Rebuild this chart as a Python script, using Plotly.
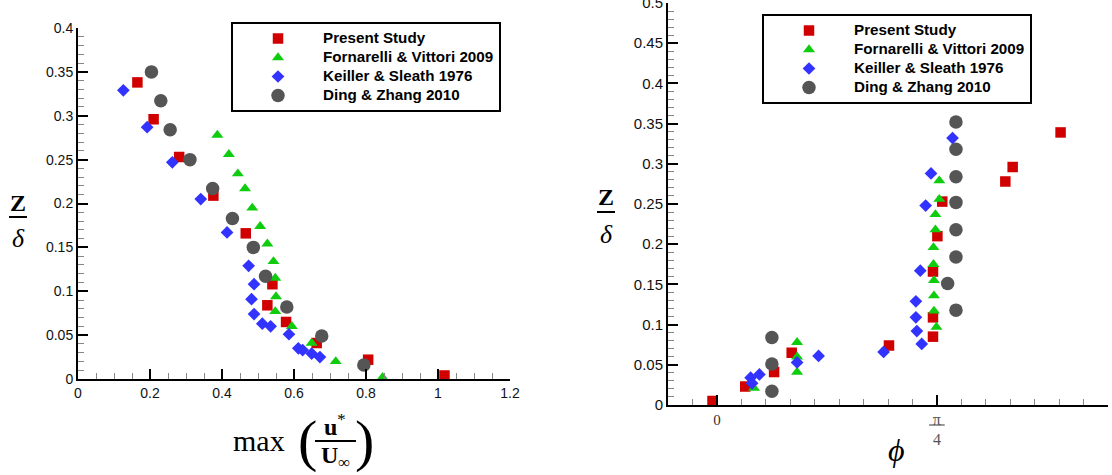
import plotly.graph_objects as go

# ---------------- data ----------------
series_names = ["Present Study", "Fornarelli & Vittori 2009", "Keiller & Sleath 1976", "Ding & Zhang 2010"]

# left panel: z/delta against max(u*/U_inf)
present_u = [0.165, 0.210, 0.281, 0.376, 0.466, 0.540, 0.526, 0.578, 0.663, 0.806, 1.018]
present_z = [0.338, 0.296, 0.253, 0.209, 0.166, 0.108, 0.084, 0.065, 0.041, 0.022, 0.004]

fornarelli_u = [0.387, 0.419, 0.444, 0.464, 0.484, 0.506, 0.526, 0.543, 0.548, 0.550, 0.548, 0.594, 0.649, 0.716, 0.846]
fornarelli_z = [0.278, 0.256, 0.234, 0.217, 0.195, 0.174, 0.154, 0.134, 0.115, 0.094, 0.077, 0.060, 0.041, 0.020, 0.002]

keiller_u = [0.126, 0.192, 0.262, 0.341, 0.414, 0.474, 0.489, 0.482, 0.489, 0.512, 0.535, 0.586, 0.612, 0.624, 0.649, 0.672]
keiller_z = [0.329, 0.287, 0.247, 0.205, 0.167, 0.129, 0.108, 0.091, 0.074, 0.063, 0.060, 0.051, 0.035, 0.033, 0.029, 0.025]

ding_u = [0.204, 0.230, 0.256, 0.311, 0.374, 0.429, 0.487, 0.521, 0.580, 0.677, 0.794]
ding_z = [0.350, 0.317, 0.284, 0.250, 0.217, 0.183, 0.150, 0.117, 0.082, 0.049, 0.016]

# right panel: z/delta against phase phi (degrees)
present_phi = [70.3, 60.5, 59.0, 46.1, 45.1, 44.2, 44.2, 44.2, 35.2, 15.3, 11.7, 5.8, -0.9]
present_zp = [0.339, 0.296, 0.278, 0.253, 0.210, 0.166, 0.109, 0.085, 0.074, 0.065, 0.041, 0.023, 0.005]

fornarelli_phi = [45.5, 45.5, 44.7, 44.7, 44.3, 44.3, 44.4, 44.4, 44.4, 44.9, 16.4, 16.4, 16.4, 7.6]
fornarelli_zp = [0.279, 0.256, 0.237, 0.218, 0.196, 0.175, 0.155, 0.136, 0.117, 0.097, 0.078, 0.060, 0.041, 0.021]

keiller_phi = [48.2, 43.8, 42.7, 41.6, 40.7, 40.7, 40.9, 41.9, 34.1, 20.8, 16.4, 8.7, 6.9, 7.2]
keiller_zp = [0.332, 0.288, 0.248, 0.167, 0.129, 0.109, 0.092, 0.076, 0.066, 0.061, 0.053, 0.038, 0.034, 0.027]

ding_phi = [48.9, 48.9, 48.9, 48.9, 48.9, 48.9, 47.2, 48.9, 11.25, 11.25, 11.25]
ding_zp = [0.352, 0.318, 0.284, 0.252, 0.218, 0.184, 0.151, 0.118, 0.084, 0.051, 0.017]

# tick labels
left_x_ticks = [0, 0.2, 0.4, 0.6, 0.8, 1.0, 1.2]
left_x_labels = ["0", "0.2", "0.4", "0.6", "0.8", "1", "1.2"]
left_y_ticks = [0, 0.05, 0.1, 0.15, 0.2, 0.25, 0.3, 0.35, 0.4]
left_y_labels = ["0", "0.05", "0.1", "0.15", "0.2", "0.25", "0.3", "0.35", "0.4"]
right_x_ticks = [0, 45]
right_x_labels = ["0", "<span style='color:#555555;font-size:16px'>π</span><br><span style='color:#555555;font-size:16px'>4</span>"]
right_y_ticks = [0, 0.05, 0.1, 0.15, 0.2, 0.25, 0.3, 0.35, 0.4, 0.45, 0.5]
right_y_labels = ["0", "0.05", "0.1", "0.15", "0.2", "0.25", "0.3", "0.35", "0.4", "0.45", "0.5"]

# ---------------- styling ----------------
W, H = 1112, 475
styles = [
    dict(symbol="square", size=10.5, color="#d10000"),
    dict(symbol="triangle-up", size=10.5, color="#0fcc0f"),
    dict(symbol="diamond", size=9.8, color="#3333ff"),
    dict(symbol="circle", size=13.5, color="#555555"),
]

fig = go.Figure()

left_sets = [(present_u, present_z), (fornarelli_u, fornarelli_z), (keiller_u, keiller_z), (ding_u, ding_z)]
right_sets = [(present_phi, present_zp), (fornarelli_phi, fornarelli_zp), (keiller_phi, keiller_zp), (ding_phi, ding_zp)]


def legend_label(name):
    # larger glyphs than the legend's base size keep the rows compact
    return f"<span style='font-size:15.2px'>{name}</span>"


for name, st, (xs, ys) in zip(series_names, styles, left_sets):
    fig.add_trace(go.Scatter(
        x=xs, y=ys, mode="markers", name=legend_label(name), xaxis="x", yaxis="y",
        legend="legend", cliponaxis=False,
        marker=dict(symbol=st["symbol"], size=st["size"], color=st["color"], line=dict(width=0)),
    ))

for name, st, (xs, ys) in zip(series_names, styles, right_sets):
    fig.add_trace(go.Scatter(
        x=xs, y=ys, mode="markers", name=legend_label(name), xaxis="x2", yaxis="y2",
        legend="legend2", cliponaxis=False,
        marker=dict(symbol=st["symbol"], size=st["size"], color=st["color"], line=dict(width=0)),
    ))

tick_font = dict(family="Liberation Sans, Arial, sans-serif", size=14, color="#111111")


def axis_common(**kw):
    base = dict(
        showline=True, linecolor="black", linewidth=2,
        showgrid=False, zeroline=False,
        ticks="inside", ticklen=10, tickwidth=2, tickcolor="black",
        tickmode="array", automargin=False, mirror=False,
        ticklabeloverflow="allow",
    )
    base.update(kw)
    return base


# panel positions in pixels (left, right, top, bottom)
L1 = (78, 510, 28, 379)
L2 = (668, 1108, 3, 405)

legend_font = dict(family="Liberation Sans, Arial, sans-serif", size=12, color="black", weight="bold")

fig.update_layout(
    width=W, height=H,
    margin=dict(l=0, r=0, t=0, b=0),
    paper_bgcolor="white", plot_bgcolor="white",
    xaxis=axis_common(
        domain=[L1[0] / W, L1[1] / W], anchor="y", range=[0, 1.2],
        tickvals=left_x_ticks, ticktext=left_x_labels, tickfont=tick_font,
        minor=dict(tickmode="linear", tick0=0, dtick=0.05, ticks="inside",
                   ticklen=6, tickwidth=1, tickcolor="#888888", showgrid=False),
    ),
    yaxis=axis_common(
        domain=[1 - L1[3] / H, 1 - L1[2] / H], anchor="x", range=[0, 0.4],
        tickvals=left_y_ticks, ticktext=left_y_labels, tickfont=tick_font,
        minor=dict(tickmode="linear", tick0=0, dtick=0.01, ticks="inside",
                   ticklen=6, tickwidth=1, tickcolor="#888888", showgrid=False),
    ),
    xaxis2=axis_common(
        domain=[L2[0] / W, L2[1] / W], anchor="y2", range=[-10, 80],
        tickvals=right_x_ticks, ticktext=right_x_labels,
        tickfont=dict(family="Liberation Serif, serif", size=15, color="#333333"),
        minor=dict(tickmode="linear", tick0=0, dtick=5, ticks="inside",
                   ticklen=6, tickwidth=1, tickcolor="#888888", showgrid=False),
    ),
    yaxis2=axis_common(
        domain=[1 - L2[3] / H, 1 - L2[2] / H], anchor="x2", range=[0, 0.5],
        tickvals=right_y_ticks, ticktext=right_y_labels,
        tickfont=dict(family="Liberation Sans, Arial, sans-serif", size=15, color="#111111"),
        minor=dict(tickmode="linear", tick0=0, dtick=0.01, ticks="inside",
                   ticklen=6, tickwidth=1, tickcolor="#888888", showgrid=False),
    ),
    legend=dict(
        x=231 / W, y=1 - 22 / H, xanchor="left", yanchor="top",
        bgcolor="white", bordercolor="black", borderwidth=2,
        font=legend_font, itemwidth=80, tracegroupgap=0,
    ),
    legend2=dict(
        x=762 / W, y=1 - 14 / H, xanchor="left", yanchor="top",
        bgcolor="white", bordercolor="black", borderwidth=2,
        font=legend_font, itemwidth=80, tracegroupgap=0,
    ),
    showlegend=True,
)

# ---------------- axis titles drawn as text ----------------
serif = "Liberation Serif, DejaVu Serif, serif"


def px_note(text, x, y, size, family=serif, color="black"):
    fig.add_annotation(
        x=x / W, y=1 - y / H, xref="paper", yref="paper",
        text=text, showarrow=False, xanchor="center", yanchor="middle",
        font=dict(family=family, size=size, color=color),
    )


def px_line(x0, x1, y, width=1.5, color="black"):
    fig.add_shape(
        type="line", xref="paper", yref="paper",
        x0=x0 / W, x1=x1 / W, y0=1 - y / H, y1=1 - y / H,
        line=dict(color=color, width=width),
    )


# z / delta on both panels
for cx, zy, ly, dy in [(18, 203, 217, 238), (606, 197, 212, 234)]:
    px_note("<b>Z</b>", cx, zy, 24)
    px_line(cx - 9, cx + 9, ly, width=2)
    px_note("<i>δ</i>", cx, dy, 26)

# max( u* / U_inf )
px_note("max", 259, 440, 30)
px_note("(", 307, 440, 58)
px_note(")", 364, 440, 58)
px_note("<b>u</b><sup>*</sup>", 335, 425, 24)
px_line(315, 356, 441, width=1.8)
px_note("<b>U</b><sub>∞</sub>", 335, 457, 24)

# phi
px_note("<i>ϕ</i>", 896, 450, 32)

# fraction bar of the pi/4 tick label
fig.add_shape(type="line", xref="x2", yref="paper",
              x0=43.4, x1=46.6, y0=1 - 425 / H, y1=1 - 425 / H,
              line=dict(color="#555555", width=1.2))

fig.write_html("out.html")
